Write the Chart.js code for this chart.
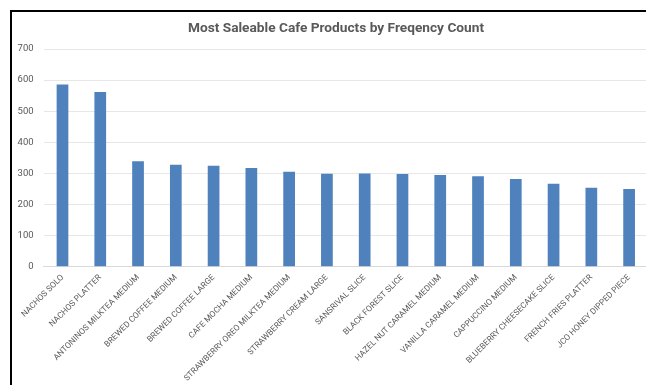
<!DOCTYPE html>
<html>
<head>
<meta charset="utf-8">
<title>Most Saleable Cafe Products</title>
<script src="https://cdn.jsdelivr.net/npm/chart.js@4.4.1/dist/chart.umd.min.js"></script>
<style>
    html, body {
        margin: 0;
        padding: 0;
        background: #ffffff;
        overflow: hidden;
        width: 646px;
        height: 385px;
    }
    .frame {
        position: absolute;
        left: 10px;
        top: 10px;
        width: 700px;
        height: 420px;
        border: 2px solid #000000;
        box-sizing: border-box;
    }
    .chart-box {
        position: absolute;
        left: 0;
        top: 0;
        width: 700px;
        height: 385px;
    }
</style>
</head>
<body>
<div class="frame"></div>
<div class="chart-box">
    <canvas id="productChart" width="700" height="385"></canvas>
</div>
<script>
// Product names and how many times each was ordered
const products = [
    'NACHOS SOLO',
    'NACHOS PLATTER',
    'ANTONINOS MILKTEA MEDIUM',
    'BREWED COFFEE MEDIUM',
    'BREWED COFFEE LARGE',
    'CAFE MOCHA MEDIUM',
    'STRAWBERRY OREO MILKTEA MEDIUM',
    'STRAWBERRY CREAM LARGE',
    'SANSRIVAL SLICE',
    'BLACK FOREST SLICE',
    'HAZEL NUT CARAMEL MEDIUM',
    'VANILLA CARAMEL MEDIUM',
    'CAPPUCCINO MEDIUM',
    'BLUEBERRY CHEESECAKE SLICE',
    'FRENCH FRIES PLATTER',
    'JCO HONEY DIPPED PIECE'
];
const frequency = [586, 562, 339, 328, 325, 317, 305, 299, 300, 298, 295, 291, 282, 267, 254, 250];
const yTicks = [0, 100, 200, 300, 400, 500, 600, 700];
const chartTitle = 'Most Saleable Cafe Products by Freqency Count';

const barColor = '#4f81bd';
const textColor = '#595959';
const gridColor = '#e7e7e7';

// Title is drawn by hand so it can sit centred on the whole frame
const frameTitle = {
    id: 'frameTitle',
    afterDraw(chart) {
        const c = chart.ctx;
        c.save();
        c.font = 'bold 13.7px Roboto';
        c.fillStyle = textColor;
        c.textAlign = 'center';
        c.textBaseline = 'middle';
        c.fillText(chartTitle, 336, 29);
        c.restore();
    }
};

const ctx = document.getElementById('productChart').getContext('2d');

new Chart(ctx, {
    type: 'bar',
    data: {
        labels: products,
        datasets: [{
            label: 'Frequency',
            data: frequency,
            backgroundColor: barColor,
            borderWidth: 0,
            barPercentage: 0.31,
            categoryPercentage: 1.0
        }]
    },
    plugins: [frameTitle],
    options: {
        responsive: false,
        animation: false,
        devicePixelRatio: 1,
        layout: {
            padding: { left: 0, right: 52, top: 49, bottom: 0 }
        },
        plugins: {
            legend: { display: false },
            tooltip: { enabled: false },
            title: { display: false }
        },
        scales: {
            x: {
                grid: { display: false, drawTicks: false },
                border: { display: true, color: '#d9d9d9', width: 1 },
                ticks: {
                    color: textColor,
                    font: { family: 'Roboto', size: 8.3 },
                    autoSkip: false,
                    minRotation: 45,
                    maxRotation: 45,
                    padding: 6
                },
                afterFit: (scale) => {
                    scale.height = 118.3;
                }
            },
            y: {
                min: 0,
                max: 700,
                afterBuildTicks: (scale) => {
                    scale.ticks = yTicks.map(v => ({ value: v }));
                },
                grid: { color: gridColor, lineWidth: 1, drawTicks: false },
                border: { display: false },
                ticks: {
                    color: textColor,
                    font: { family: 'Roboto', size: 9.5 },
                    padding: 10
                },
                afterFit: (scale) => {
                    scale.width = 43.6;
                }
            }
        }
    }
});
</script>
</body>
</html>
